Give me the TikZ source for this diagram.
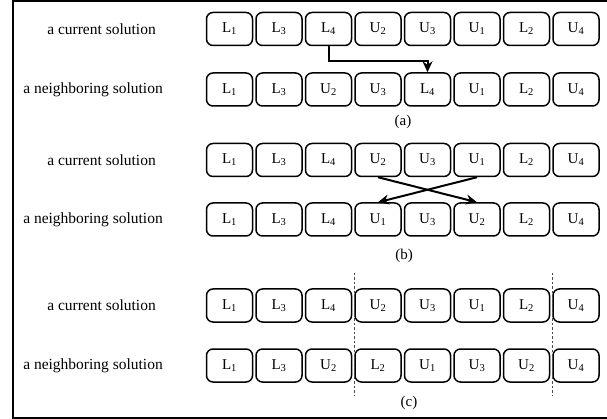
\documentclass[tikz,border=0pt]{standalone}
\usepackage{fontspec}
\setmainfont{Liberation Serif}
\usetikzlibrary{arrows.meta}
\tikzset{
  gene/.style={draw, line width=1.5pt, rounded corners=6.5pt, minimum width=46pt,
    minimum height=33pt, inner sep=0pt, font=\fontsize{15}{18}\selectfont},
  rowlabel/.style={font=\fontsize{15.5}{18}\selectfont, inner sep=0pt},
  caption/.style={font=\fontsize{15}{18}\selectfont, inner sep=0pt},
  move/.style={line width=2pt, -{Stealth[length=11pt,width=10pt]}},
  cut/.style={line width=0.7pt, gray!60!black, dash pattern=on 2.5pt off 2pt},
}
\newcommand{\gL}[1]{L\textsubscript{#1}}
\newcommand{\gU}[1]{U\textsubscript{#1}}
\begin{document}
\begin{tikzpicture}[x=1pt, y=-1pt]
  \useasboundingbox (0,0) rectangle (607,419);
  % frame
  \draw[line width=2.2pt] (607,1) -- (13,1) -- (13,418) -- (607,418);

  % chromosome rows: name / centre y / genes
  \foreach \r/\yy/\genes in {
      a1/29/{\gL1,\gL3,\gL4,\gU2,\gU3,\gU1,\gL2,\gU4},
      a2/89.5/{\gL1,\gL3,\gU2,\gU3,\gL4,\gU1,\gL2,\gU4},
      b1/160/{\gL1,\gL3,\gL4,\gU2,\gU3,\gU1,\gL2,\gU4},
      b2/219.5/{\gL1,\gL3,\gL4,\gU1,\gU3,\gU2,\gL2,\gU4},
      c1/305.5/{\gL1,\gL3,\gL4,\gU2,\gU3,\gU1,\gL2,\gU4},
      c2/365.5/{\gL1,\gL3,\gU2,\gL2,\gU1,\gU3,\gU2,\gU4}}{
    \foreach \g [count=\i from 0] in \genes {
      \node[gene] (\r-\i) at (229.5+49.5*\i, \yy) {\g};
    }
  }

  % row labels
  \foreach \r/\yy in {a/29, b/160, c/305.5} {
    \node[rowlabel] (\r-cur) at (101.5,\yy) {a current solution};
  }
  \foreach \r/\yy in {a/89.5, b/219.5, c/365.5} {
    \node[rowlabel] (\r-nei) at (93,\yy) {a neighboring solution};
  }

  % captions
  \node[caption] (capa) at (403,122) {(a)};
  \node[caption] (capb) at (404,256) {(b)};
  \node[caption] (capc) at (409,403) {(c)};

  % (a) insertion move
  \draw[move] (a1-2.south) -- ++(0,15) -| (a2-4.north);

  % (b) swap move
  \draw[move] (b1-3.south) -- (b2-5.north);
  \draw[move] (b1-5.south) -- (b2-3.north);

  % (c) cut points of the segment
  \coordinate (cut1t) at (354,273);
  \coordinate (cut1b) at (354,395);
  \coordinate (cut2t) at (552,273);
  \coordinate (cut2b) at (552,395);
  \draw[cut] (cut1t) -- (cut1b);
  \draw[cut] (cut2t) -- (cut2b);
\end{tikzpicture}
\end{document}
